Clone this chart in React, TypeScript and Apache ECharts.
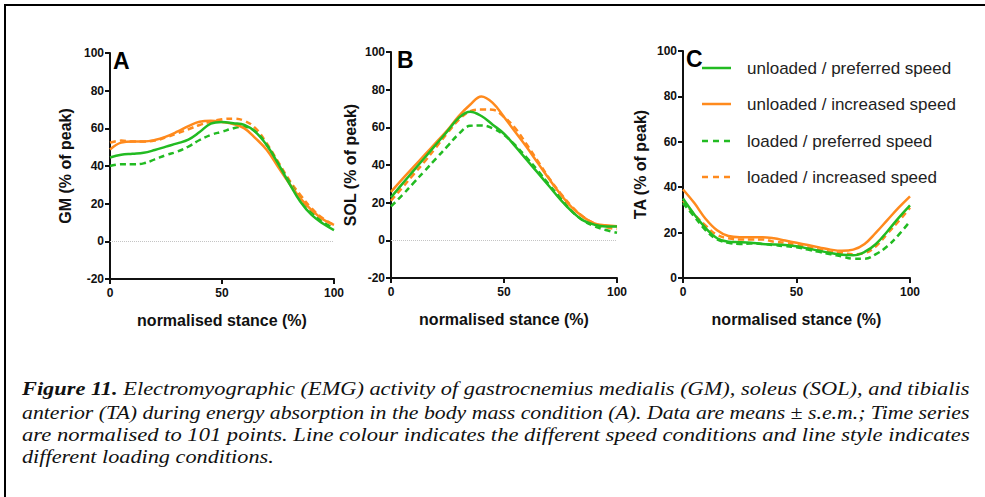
import React, { useEffect, useRef } from "react";
import * as echarts from "echarts";

// ---------- data ----------
const stance = [0, 5, 10, 15, 20, 25, 30, 35, 40, 45, 50, 55, 60, 65, 70, 75, 80, 85, 90, 95, 100];

const seriesNames = [
  "unloaded / preferred speed",
  "unloaded / increased speed",
  "loaded / preferred speed",
  "loaded / increased speed",
];

// GM (% of peak)
const gmUnloadedPreferred = [44.5, 46, 46.5, 47, 48.5, 50.3, 52, 54, 58, 62.5, 63.4, 62.7, 61.8, 58, 51, 41.4, 30.8, 21, 14, 9.5, 6];
const gmUnloadedIncreased = [48.8, 52.4, 53, 53, 53.8, 55.6, 58.2, 61.2, 63.5, 64, 63.4, 62.3, 60, 54.7, 48.5, 39.6, 30.8, 22.8, 16.6, 11.7, 8.7];
const gmLoadedPreferred = [40, 40.9, 40.9, 41.4, 43.5, 45.8, 47.6, 50.3, 53.8, 56.5, 58.2, 60, 60.9, 58.2, 51.2, 41.4, 31.7, 22.8, 15.8, 10.4, 6.9];
const gmLoadedIncreased = [52.4, 53.5, 53, 53, 53.5, 55.2, 57.3, 59.5, 61.8, 63.5, 64.8, 65.1, 64, 60, 52, 42.3, 32.6, 24.6, 17.5, 12.2, 8.7];

// SOL (% of peak)
const solUnloadedPreferred = [22.8, 30, 37, 44, 51, 58, 65, 68.3, 66, 61.4, 56.6, 49.9, 42.8, 35.8, 28.7, 21.6, 15.4, 10.6, 8.3, 7.4, 7.4];
const solUnloadedIncreased = [25.7, 32.5, 39, 45.5, 52, 58.5, 66, 72, 76.4, 73, 65.5, 57.5, 49.5, 41, 32.5, 24.5, 17.5, 12.5, 9, 8, 7.5];
const solLoadedPreferred = [18, 24, 30.5, 37, 43.5, 50, 56.5, 60.8, 61, 59.5, 56, 50.5, 44, 37, 29.5, 22.5, 15.5, 10.5, 7.5, 5.5, 4];
const solLoadedIncreased = [21, 28, 35, 42, 49.5, 57, 64, 68.5, 69.5, 69.3, 65.5, 59.5, 51, 42, 33, 25, 18, 12.5, 9, 7, 6];

// TA (% of peak)
const taUnloadedPreferred = [35, 28, 22, 17.5, 16, 15.8, 15.5, 15, 14.8, 14.5, 14, 13, 12, 11, 10.2, 10, 11.5, 15, 20.5, 26.5, 32];
const taUnloadedIncreased = [39, 33, 26, 21, 18.5, 18, 18, 18, 17.5, 16.5, 15.5, 14.5, 13.5, 12.5, 12, 12.5, 15, 20, 25.5, 31, 36];
const taLoadedPreferred = [33, 27, 21, 17, 15.5, 15, 15.2, 15, 14.5, 14, 13.5, 12.5, 11.5, 10.5, 9.5, 8.5, 8.5, 10.5, 14, 19, 25];
const taLoadedIncreased = [34, 28, 23, 19, 17.5, 17, 17, 17, 16, 15.5, 14.5, 13.5, 12.5, 11.5, 11, 10.5, 11, 14, 19.5, 25, 31];

const panelLetters = ["A", "B", "C"];
const yAxisNames = ["GM (% of peak)", "SOL (% of peak)", "TA (% of peak)"];
const xAxisName = "normalised stance (%)";
const xTicks = { min: 0, max: 100, interval: 50 };
const yTicksAB = { min: -20, max: 100, interval: 20 };
const yTicksC = { min: 0, max: 100, interval: 20 };

const captionBold = "Figure 11.";
const captionLines = [
  " Electromyographic (EMG) activity of gastrocnemius medialis (GM), soleus (SOL), and tibialis",
  "anterior (TA) during energy absorption in the body mass condition (A). Data are means \u00b1 s.e.m.; Time series",
  "are normalised to 101 points. Line colour indicates the different speed conditions and line style indicates",
  "different loading conditions.",
];

// ---------- styling ----------
const GREEN = "#22bb22";
const ORANGE = "#ff8a1d";
const SANS = "'Liberation Sans', Arial, sans-serif";
const SERIF = "'Liberation Serif', 'Times New Roman', serif";

const grids = [
  { left: 110, top: 53, width: 224, height: 226 },
  { left: 391, top: 52, width: 226, height: 226 },
  { left: 683, top: 51, width: 227, height: 227 },
];

function pair(values: number[]) {
  return stance.map((x, i) => [x, values[i]]);
}

export default function App() {
  const ref = useRef<HTMLDivElement>(null);

  useEffect(() => {
    document.body.style.margin = "0";
    if (!ref.current) return;
    const chart = echarts.init(ref.current, null, { renderer: "svg" });

    const panels = [
      [gmUnloadedPreferred, gmUnloadedIncreased, gmLoadedPreferred, gmLoadedIncreased],
      [solUnloadedPreferred, solUnloadedIncreased, solLoadedPreferred, solLoadedIncreased],
      [taUnloadedPreferred, taUnloadedIncreased, taLoadedPreferred, taLoadedIncreased],
    ];
    const colors = [GREEN, ORANGE, GREEN, ORANGE];
    const dashed = [false, false, true, true];
    const drawOrder = [3, 2, 1, 0];

    const series: any[] = [];
    panels.forEach((p, gi) => {
      drawOrder.forEach((si, k) => {
        const s: any = {
          type: "line",
          name: seriesNames[si],
          xAxisIndex: gi,
          yAxisIndex: gi,
          data: pair(p[si]),
          smooth: 0.4,
          symbol: "none",
          showSymbol: false,
          lineStyle: {
            color: colors[si],
            width: 2.5,
            type: dashed[si] ? [6, 4] : "solid",
          },
          itemStyle: { color: colors[si] },
          z: 2 + k,
        };
        if (k === 0 && gi < 2) {
          s.markLine = {
            silent: true,
            symbol: ["none", "none"],
            label: { show: false },
            lineStyle: { type: "dotted", color: "#c4c4c4", width: 1 },
            data: [{ yAxis: 0 }],
            z: 1,
          };
        }
        series.push(s);
      });
    });

    const axisLine = { show: true, onZero: false, lineStyle: { color: "#111", width: 2 } };
    const axisTick = { show: true, inside: false, length: 5, lineStyle: { color: "#111", width: 2 } };
    const axisLabel = { color: "#111", fontFamily: SANS, fontWeight: "bold" as const, fontSize: 12 };
    const nameStyle = { color: "#111", fontFamily: SANS, fontWeight: "bold", fontSize: 16 };

    const xAxis = grids.map((_, gi) => ({
      type: "value",
      gridIndex: gi,
      ...xTicks,
      axisLine,
      axisTick,
      axisLabel: { ...axisLabel, margin: 8 },
      splitLine: { show: false },
      name: xAxisName,
      nameLocation: "middle",
      nameGap: 33,
      nameTextStyle: nameStyle,
    }));
    const yNameGaps = [37, 33, 35];
    const yAxis = grids.map((_, gi) => ({
      type: "value",
      gridIndex: gi,
      ...(gi < 2 ? yTicksAB : yTicksC),
      axisLine,
      axisTick,
      axisLabel: { ...axisLabel, margin: 6 },
      splitLine: { show: false },
      name: yAxisNames[gi],
      nameLocation: "middle",
      nameGap: yNameGaps[gi],
      nameRotate: 90,
      nameTextStyle: nameStyle,
    }));

    // caption widths, measured to fill the justified block
    const canvas = document.createElement("canvas");
    const ctx = canvas.getContext("2d")!;
    const capSize = 19;
    const measure = (txt: string, bold: boolean) => {
      ctx.font = `italic ${bold ? "bold " : ""}${capSize}px ${SERIF}`;
      return ctx.measureText(txt).width;
    };
    const capLeft = 22;
    const capRight = 970;
    const target = capRight - capLeft;
    const widths = captionLines.map((t, i) => measure(t, false) + (i === 0 ? measure(captionBold, true) : 0));
    const scales = widths.map((w) => target / w);
    const avgScale = (scales[0] + scales[1] + scales[2]) / 3;
    scales[3] = avgScale;
    const capY = [389, 412, 435, 457];

    const graphic: any[] = [
      { type: "rect", shape: { x: 4, y: 4, width: 981, height: 2 }, style: { fill: "#000" }, silent: true },
      { type: "rect", shape: { x: 4, y: 4, width: 2, height: 493 }, style: { fill: "#000" }, silent: true },
    ];

    // panel letters
    const letterX = [113, 397, 686];
    panelLetters.forEach((l, i) => {
      graphic.push({
        type: "text",
        x: letterX[i],
        y: grids[i].top + 8,
        style: { text: l, font: `bold 23px ${SANS}`, fill: "#000", textAlign: "left", textVerticalAlign: "middle" },
        silent: true,
      });
    });

    // legend
    const legY = [68, 104, 141, 177];
    seriesNames.forEach((n, i) => {
      graphic.push({
        type: "line",
        shape: { x1: 702, y1: legY[i], x2: 731, y2: legY[i] },
        style: { stroke: colors[i], lineWidth: 2.5, lineDash: dashed[i] ? [6, 5] : null },
        silent: true,
      });
      graphic.push({
        type: "text",
        x: 747,
        y: legY[i],
        style: { text: n, font: `17px ${SANS}`, fill: "#222", textAlign: "left", textVerticalAlign: "middle" },
        silent: true,
      });
    });

    // caption
    captionLines.forEach((t, i) => {
      graphic.push({
        type: "text",
        x: capLeft,
        y: capY[i],
        scaleX: scales[i],
        style: {
          text: i === 0 ? `{b|${captionBold}}${t}` : t,
          font: `italic ${capSize}px ${SERIF}`,
          fill: "#111",
          textAlign: "left",
          textVerticalAlign: "middle",
          rich: {
            b: { fontStyle: "italic", fontWeight: "bold", fontSize: capSize, fontFamily: SERIF, fill: "#111" },
          },
        },
        silent: true,
      });
    });

    chart.setOption({
      animation: false,
      backgroundColor: "#fff",
      grid: grids.map((g) => ({ ...g, containLabel: false })),
      xAxis,
      yAxis,
      series,
      graphic,
    });

    return () => chart.dispose();
  }, []);

  return <div ref={ref} style={{ width: 985, height: 497 }} />;
}
